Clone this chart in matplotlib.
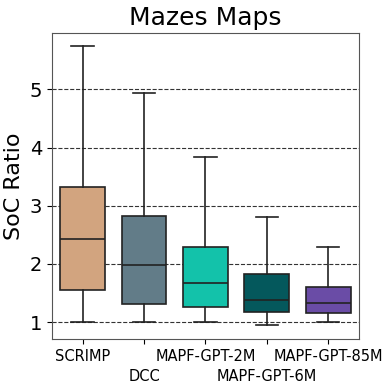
import matplotlib
matplotlib.use('Agg')
import matplotlib.pyplot as plt

names = ['SCRIMP', 'DCC', 'MAPF-GPT-2M', 'MAPF-GPT-6M', 'MAPF-GPT-85M']
whislo = [1.0, 1.0, 1.0, 0.95, 1.0]
q1 = [1.55, 1.31, 1.26, 1.17, 1.16]
med = [2.43, 1.98, 1.67, 1.38, 1.33]
q3 = [3.33, 2.83, 2.29, 1.83, 1.60]
whishi = [5.74, 4.93, 3.83, 2.81, 2.29]
colors = ['#D2A47F', '#627C88', '#13C2AA', '#04585C', '#6A4CA6']

stats = []
for i in range(len(names)):
    stats.append(dict(whislo=whislo[i], q1=q1[i], med=med[i], q3=q3[i],
                      whishi=whishi[i], fliers=[]))

fig, ax = plt.subplots(figsize=(3.91, 3.87), dpi=100)
bp = ax.bxp(stats, positions=range(1, 6), widths=0.73, patch_artist=True,
            showfliers=False,
            medianprops=dict(color='#222222', lw=1.2),
            whiskerprops=dict(color='#222222', lw=1.2),
            capprops=dict(color='#222222', lw=1.2),
            boxprops=dict(edgecolor='#222222', lw=1.2))
for patch, c in zip(bp['boxes'], colors):
    patch.set_facecolor(c)

ax.set_xlim(0.5, 5.5)
ax.set_ylim(0.71, 5.97)
ax.set_yticks([1, 2, 3, 4, 5])
ax.yaxis.grid(True, linestyle='--', color='#333333', lw=0.8)
ax.set_axisbelow(True)
ax.set_xticks(range(1, 6))
ax.set_xticklabels(names, fontsize=10.5)
# stagger the labels on two rows
for i, t in enumerate(ax.xaxis.get_major_ticks()):
    if i % 2 == 1:
        t.set_pad(18)
ax.tick_params(axis='y', labelsize=14)
ax.set_ylabel('SoC Ratio', fontsize=16)
ax.set_title('Mazes Maps', fontsize=18)
for s in ax.spines.values():
    s.set_color('#555555')

plt.subplots_adjust(left=0.133, right=0.918, top=0.915, bottom=0.124)
plt.savefig('out.png')
